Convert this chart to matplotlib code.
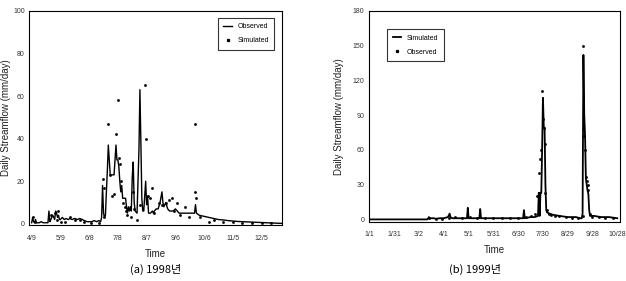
import matplotlib
matplotlib.use("Agg")
import matplotlib.pyplot as plt
from matplotlib import font_manager

# ---------------------------------------------------------------- data 1998
# day offsets counted from 4/9
obs98_day = [0, 1, 2, 3, 4, 5, 8, 10, 12, 17, 18, 19, 20, 22, 24, 25, 26, 27,
             28, 29, 30, 32, 34, 36, 38, 40, 42, 45, 48, 50, 53, 55, 58, 60,
             63, 65, 68, 70, 72, 73, 74, 75, 76, 77, 78, 79, 80, 81, 82, 84,
             86, 87, 88, 89, 90, 91, 92, 93, 94, 95, 96, 98, 99, 100, 101,
             102, 103, 104, 105, 106, 107, 108, 110, 112, 113, 114, 115, 116,
             117, 118, 119, 120, 121, 122, 124, 126, 127, 128, 130, 132, 134,
             136, 137, 138, 140, 142, 144, 146, 148, 150, 152, 154, 156, 158,
             160, 170, 171, 172, 175, 180, 185, 190, 195, 200, 205, 210, 215,
             220, 225, 230, 235, 240, 245, 250, 255, 261]
obs98_val = [0.5, 3, 1, 0.5, 2, 0.5, 0.5, 1, 0.5, 0.5, 6, 1, 2, 4, 2, 6, 5, 3,
             4, 2, 2, 3, 2, 2.5, 2, 2.5, 2, 2.5, 2, 2.5, 2, 1.5, 1, 1,
             1, 1.5, 1, 1.5, 1, 3, 18, 5, 3, 4, 15, 25, 37, 30, 23, 23,
             23, 30, 37, 30, 30, 27, 20, 15, 18, 12, 12, 12, 8, 5, 8,
             6, 8, 6, 22, 29, 10, 6, 5, 35, 63, 38, 12, 6,
             6, 13, 20, 9, 13, 5, 5, 6, 5, 6, 7, 7, 10,
             15, 10, 8, 10, 7, 6, 6, 6, 7, 6, 5, 5, 5,
             5, 5, 9, 5, 4, 3.5, 3, 2.5, 2, 1.8, 1.5, 1.3, 1.1,
             1, 0.9, 0.8, 0.7, 0.6, 0.5, 0.4, 0.3, 0.2]

sim98_day = [1, 3, 20, 24, 26, 28, 31, 35, 40, 45, 50, 55, 62, 70, 74, 75, 76,
             80, 82, 84, 86, 88, 90, 91, 92, 93, 95, 97, 98, 100, 104, 106,
             107, 110, 113, 118, 119, 121, 124, 126, 128, 133, 136, 140, 143,
             146, 149, 152, 155, 160, 164, 170, 171, 172, 176, 180, 185, 190,
             200, 210, 220, 230, 240, 250]
sim98_val = [3, 1, 4, 5, 2, 6, 1, 1, 3, 2, 2, 1, 0.5, 0.5, 21, 3, 17,
             47, 23, 13, 14, 42, 58, 31, 28, 20, 10, 8, 6, 4, 3, 15,
             7, 2, 9, 65, 40, 13, 12, 17, 5, 10, 9, 10, 11,
             12, 6, 10, 4, 8, 3, 47, 15, 12, 3, -1, 1, 2,
             1, 1, 0.5, 0.5, 0.3, 0.3]

ticks98 = ["4/9", "5/9", "6/8", "7/8", "8/7", "9/6", "10/6", "11/5", "12/5"]

# ---------------------------------------------------------------- data 1999
# day offsets counted from 1/1
sim99_day = [0, 70, 72, 73, 74, 78, 80, 85, 90, 95, 97, 98, 100, 110, 118,
             119, 120, 121, 125, 133, 134, 135, 140, 150, 160, 170, 180, 186,
             187, 188, 195, 200, 204, 205, 206, 207, 208, 209, 210, 211, 212,
             213, 214, 215, 218, 222, 230, 240, 250, 255, 257, 258, 259, 260,
             261, 262, 263, 264, 265, 266, 267, 268, 272, 280, 290, 300]
sim99_val = [0, 0, 2, 0.5, 1, 1, 0.5, 1, 1, 2, 5, 2, 1, 1, 1,
             10, 1, 1, 1, 1, 9, 1, 1, 1, 1, 1, 1, 1,
             8, 1, 2, 2, 3, 23, 3, 23, 23, 60, 105, 80, 79,
             30, 8, 6, 5, 4, 3, 2, 2, 1, 1, 5, 142, 90,
             72, 35, 30, 25, 22, 8, 3, 3, 3, 2, 2, 1]

obs99_day = [72, 80, 88, 96, 104, 112, 122, 130, 140, 150, 160, 170, 180,
             190, 196, 200, 203, 205, 207, 208, 209, 210, 211, 212, 213, 215,
             217, 220, 225, 230, 238, 245, 252, 258, 259, 260, 261, 262, 263,
             264, 265, 267, 270, 278, 285, 295]
obs99_val = [1, 0.5, 0.5, 1, 2, 1, 2, 1, 1, 1.5, 1, 1, 1,
             2, 3, 5, 20, 40, 52, 60, 111, 87, 79, 65, 23, 8,
             5, 4, 3, 3, 2, 1, 1, 3, 150, 72, 60, 37, 33,
             30, 25, 5, 2, 2, 1, 1]

ticks99 = ["1/1", "1/31", "3/2", "4/1", "5/1", "5/31", "6/30", "7/30",
           "8/29", "9/28", "10/28"]

# ---------------------------------------------------------------- style
names = {f.name for f in font_manager.fontManager.ttflist}
base_font = "Liberation Sans Narrow" if "Liberation Sans Narrow" in names else "Liberation Sans"
plt.rcParams["font.family"] = [base_font, "DejaVu Sans"]
kr_font = ["Noto Sans CJK KR", "DejaVu Sans"]


def style_axes(ax, ymax, ystep, labels, ylab_x):
    ax.set_yticks(range(0, ymax + 1, ystep))
    ax.set_xticks(range(0, 30 * len(labels), 30))
    ax.set_xticklabels(labels)
    ax.tick_params(axis="both", length=0, labelsize=5, colors="#333333")
    ax.tick_params(axis="x", pad=7)
    ax.tick_params(axis="y", pad=3)
    for s in ax.spines.values():
        s.set_linewidth(0.8)
    ax.set_xlabel("Time", fontsize=7, labelpad=5, color="#222222")
    ax.set_ylabel("Daily Streamflow (mm/day)", fontsize=7, color="#222222")
    ax.yaxis.set_label_coords(ylab_x, 0.5)


fig = plt.figure(figsize=(6.26, 2.81), dpi=100)

# (a) 1998
ax1 = fig.add_axes([0.046, 0.199, 0.404, 0.762])
ax1.plot(obs98_day, obs98_val, color="black", lw=1.0, label="Observed")
ax1.plot(sim98_day, sim98_val, ls="none", marker="s", ms=0.9, color="black",
         label="Simulated")
ax1.set_xlim(-3, 261)
ax1.set_ylim(-0.6, 100)
style_axes(ax1, 100, 20, ticks98, -0.072)
leg1 = ax1.legend(loc="upper right", bbox_to_anchor=(0.985, 0.985), fontsize=5,
                  frameon=True, fancybox=False, edgecolor="black",
                  handlelength=1.2, borderpad=0.8, labelspacing=1.0,
                  markerscale=1.5)
leg1.get_frame().set_linewidth(0.8)
fig.text(0.248, 0.03, "(a) 1998년", fontsize=8, ha="center", family=kr_font)

# (b) 1999
ax2 = fig.add_axes([0.589, 0.211, 0.401, 0.750])
ax2.plot(sim99_day, sim99_val, color="black", lw=1.3, label="Simulated")
ax2.plot(obs99_day, obs99_val, ls="none", marker="s", ms=0.9, color="black",
         label="Observed")
ax2.set_xlim(-1, 303)
ax2.set_ylim(-2, 180)
style_axes(ax2, 180, 30, ticks99, -0.1)
leg2 = ax2.legend(loc="upper left", bbox_to_anchor=(0.06, 0.93), fontsize=5,
                  frameon=True, fancybox=False, edgecolor="black",
                  handlelength=1.2, borderpad=0.8, labelspacing=1.0,
                  markerscale=1.5)
leg2.get_frame().set_linewidth(0.8)
fig.text(0.758, 0.03, "(b) 1999년", fontsize=8, ha="center", family=kr_font)

fig.savefig("out.png", dpi=100)
